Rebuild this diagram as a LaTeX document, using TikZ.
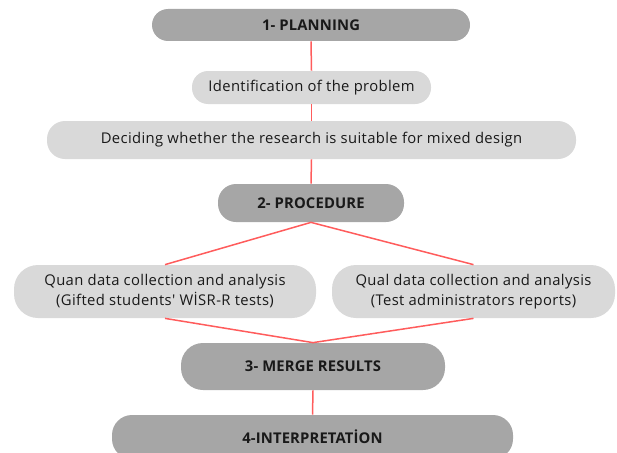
\documentclass[tikz,border=0pt]{standalone}
\usepackage{fontspec}
\setmainfont{Open Sans}[LetterSpace=2.5, Ligatures=TeXOff]
\newfontfamily\stagefont{Open Sans}[LetterSpace=1]
\usetikzlibrary{positioning}

\definecolor{stagegray}{RGB}{166,166,166}
\definecolor{taskgray}{RGB}{217,217,217}
\definecolor{linkred}{RGB}{255,92,92}
\definecolor{inkgray}{RGB}{25,25,25}

\tikzset{every picture/.style={line width=0.75pt}}
\tikzset{
  stage/.style={fill=stagegray, rounded corners=16pt, text=inkgray, font=\stagefont\bfseries\fontsize{14.8}{16}\selectfont, inner sep=0pt},
  task/.style={fill=taskgray, rounded corners=16pt, text=inkgray, font=\fontsize{14.8}{20}\selectfont, inner sep=0pt, align=center},
  link/.style={draw=linkred, line width=1.5pt}
}

\begin{document}
\begin{tikzpicture}[x=1pt,y=1pt,yscale=-1,xscale=1]
\useasboundingbox (0,0) rectangle (617,452);
\clip (0,0) rectangle (617,452);

% stage 1 and its two steps
\node[stage, minimum width=318pt, minimum height=32pt] (planning) at (311,25) {1- PLANNING};
\node[task, minimum width=239pt, minimum height=33pt] (ident) at (311.5,87.5) {Identification of the problem};
\node[task, minimum width=529pt, minimum height=38pt, rounded corners=18pt] (decide) at (311.5,140) {Deciding whether the research is suitable for mixed design};

% stage 2 with the two strands
\node[stage, minimum width=186pt, minimum height=38pt, rounded corners=18pt] (procedure) at (311,203) {2- PROCEDURE};
\node[task, minimum width=302pt, minimum height=53pt, rounded corners=24pt] (quan) at (165,291.5) {Quan data collection and analysis\\(Gifted students' WİSR-R tests)};
\node[task, minimum width=283pt, minimum height=53pt, rounded corners=24pt] (qual) at (473.5,291.5) {Qual data collection and analysis\\(Test administrators reports)};

% stages 3 and 4
\node[stage, minimum width=264pt, minimum height=47pt, rounded corners=22pt] (merge) at (313,366.5) {3- MERGE RESULTS};
\node[stage, minimum width=401pt, minimum height=44pt, rounded corners=20pt] (interp) at (312.5,437) {4-INTERPRETATİON};

% connectors
\draw[link] (planning.south) -- (ident.north);
\draw[link] (ident.south) -- (decide.north);
\draw[link] (decide.south) -- (procedure.north);
\draw[link] (quan.north) -- (procedure.south) -- (qual.north);
\draw[link] (quan.south) -- (merge.north) -- (qual.south);
\draw[link] (merge.south) -- (interp.north);

\end{tikzpicture}
\end{document}
